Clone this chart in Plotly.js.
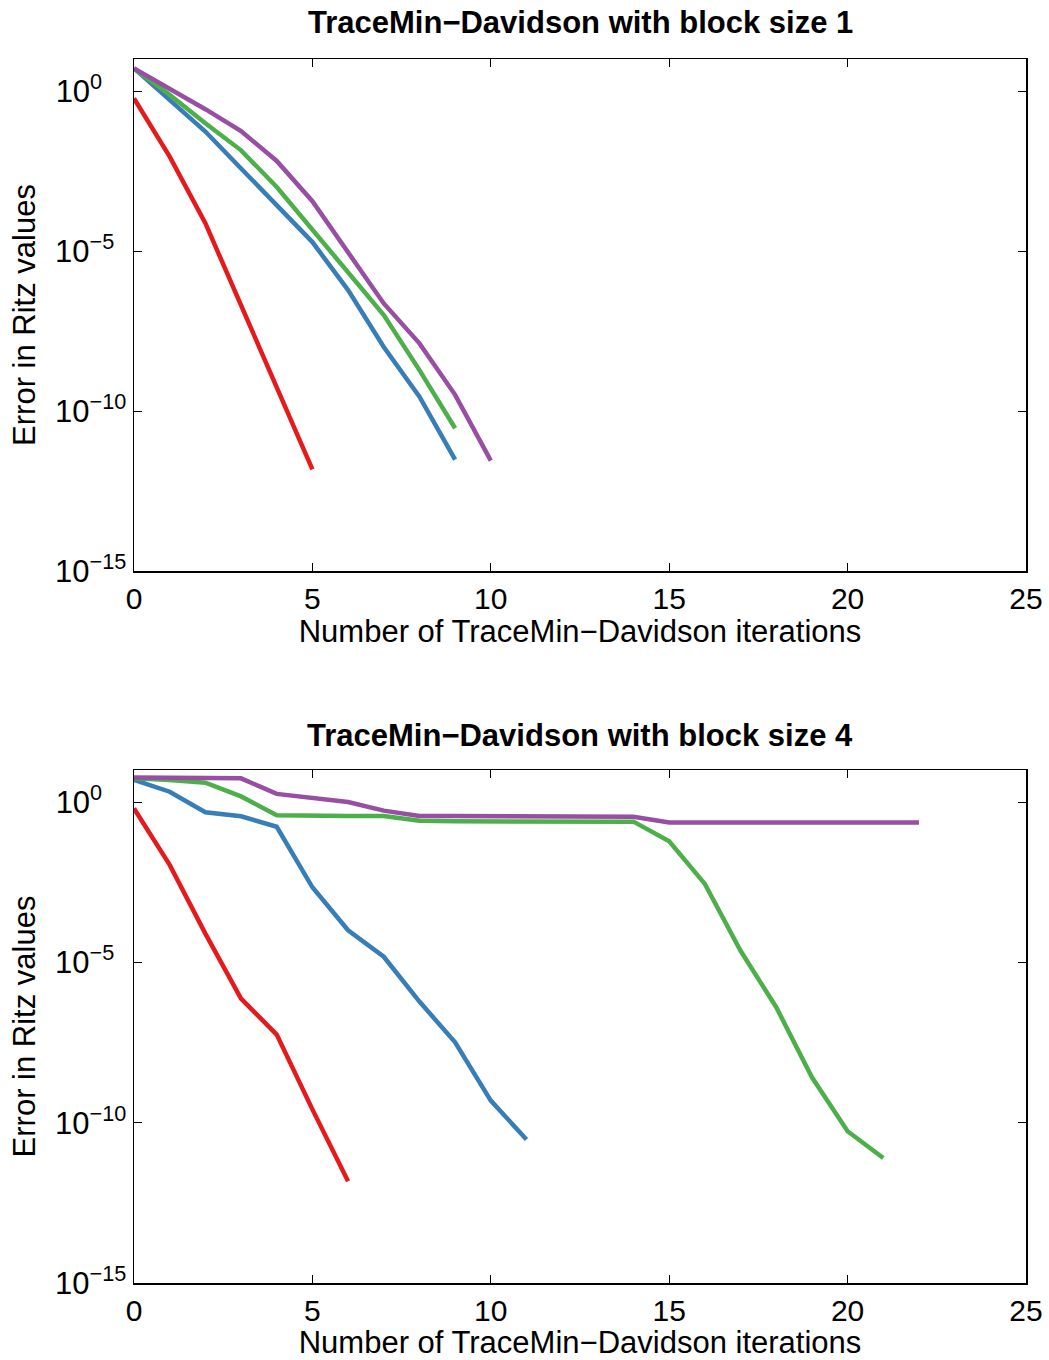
<!DOCTYPE html>
<html>
<head>
<meta charset="utf-8">
<script src="https://cdn.plot.ly/plotly-3.0.1.min.js"></script>
<style>html,body{margin:0;padding:0;background:#fff;}#chart{width:1049px;height:1360px;}</style>
</head>
<body>
<div id="chart"></div>
<script>
// ---- Data (error in Ritz values per iteration) ----
const seriesNames = ["Eigenvalue 1", "Eigenvalue 2", "Eigenvalue 3", "Eigenvalue 4"];
const seriesColors = ["#e41a1c", "#377eb8", "#4daf4a", "#984ea3"];

// Block size 1
const b1_red    = [5.9e-1, 8.9e-3, 7.4e-5, 2.0e-7, 5.0e-10, 1.5e-12];
const b1_blue   = [5.1, 5.2e-1, 5.4e-2, 3.8e-3, 2.8e-4, 1.9e-5, 6.0e-7, 1.0e-8, 2.8e-10, 3.0e-12];
const b1_green  = [5.1, 7.6e-1, 9.8e-2, 1.4e-2, 1.0e-3, 4.6e-5, 2.0e-6, 1.0e-7, 1.9e-9, 2.9e-11];
const b1_purple = [5.1, 1.2, 2.7e-1, 5.6e-2, 6.5e-3, 3.6e-4, 8.9e-6, 2.3e-7, 1.3e-8, 3.2e-10, 2.8e-12];

// Block size 4
const b4_red    = [6.3e-1, 1.1e-2, 7.9e-5, 7.4e-7, 5.6e-8, 2.6e-10, 1.5e-12];
const b4_blue   = [4.9, 2.1, 4.8e-1, 3.6e-1, 1.7e-1, 2.2e-3, 1.0e-4, 1.5e-5, 6.0e-7, 3.2e-8, 4.9e-10, 3.0e-11];
const b4_green  = [5.5, 4.9, 4.0, 1.5, 3.9e-1, 3.7e-1, 3.7e-1, 3.7e-1, 2.6e-1, 2.5e-1, 2.5e-1, 2.5e-1, 2.5e-1, 2.5e-1, 2.45e-1,
                   6.0e-2, 2.8e-3, 2.3e-5, 4.0e-7, 2.6e-9, 5.4e-11, 7.9e-12];
const b4_purple = [5.8, 5.8, 5.5, 5.5, 1.8, 1.3, 1.0, 5.4e-1, 3.7e-1, 3.7e-1, 3.7e-1, 3.7e-1, 3.7e-1, 3.6e-1, 3.5e-1,
                   2.3e-1, 2.3e-1, 2.3e-1, 2.3e-1, 2.3e-1, 2.3e-1, 2.3e-1, 2.3e-1];

const xTickVals = [0, 5, 10, 15, 20, 25];
const yTickVals = [1e-15, 1e-10, 1e-5, 1];
// figure spaces (U+2007) pad the short exponents so the "10" bases line up on the left
const yTickText = ["10<sup>\u221215</sup>", "10<sup>\u221210</sup>", "10<sup>\u22125\u2007</sup>", "10<sup>0\u2007\u2007</sup>"];
const titles = ["TraceMin\u2212Davidson with block size 1", "TraceMin\u2212Davidson with block size 4"];
const xLabel = "Number of TraceMin\u2212Davidson iterations";
const yLabel = "Error in Ritz values";

// ---- Build traces ----
function iters(arr) { return arr.map((_, i) => i); }
const groups = [
  {axes: ["x", "y"],   data: [b1_red, b1_blue, b1_green, b1_purple]},
  {axes: ["x2", "y2"], data: [b4_red, b4_blue, b4_green, b4_purple]}
];
const traces = [];
groups.forEach(g => {
  g.data.forEach((vals, k) => {
    traces.push({
      x: iters(vals), y: vals, type: "scatter", mode: "lines",
      name: seriesNames[k], xaxis: g.axes[0], yaxis: g.axes[1],
      line: {color: seriesColors[k], width: 4.5},
      showlegend: false, hoverinfo: "x+y"
    });
  });
});

const W = 1049, H = 1360;
const FONT = "Liberation Sans, Arial, Helvetica, sans-serif";
function xaxisDef() {
  return {
    domain: [134 / W, 1026 / W],
    range: [0, 25], tickvals: xTickVals, ticks: "inside", ticklen: 8, tickwidth: 1,
    tickcolor: "#000", showline: true, linecolor: "#000", linewidth: 1.5, mirror: "ticks",
    showgrid: false, zeroline: false, automargin: false,
    tickfont: {family: FONT, size: 30, color: "#000"}, ticklabelstandoff: 0,
    title: {text: xLabel, font: {family: FONT, size: 31, color: "#000"}, standoff: 5}
  };
}
function yaxisDef(top, bottom) {
  return {
    domain: [(H - bottom) / H, (H - top) / H],
    type: "log", range: [-15, 1], tickvals: yTickVals, ticktext: yTickText,
    ticks: "inside", ticklen: 8, tickwidth: 1, tickcolor: "#000",
    showline: true, linecolor: "#000", linewidth: 1.5, mirror: "ticks",
    showgrid: false, zeroline: false, automargin: false,
    tickfont: {family: FONT, size: 31, color: "#000"}, ticklabelstandoff: 0,
    title: {text: yLabel, font: {family: FONT, size: 31, color: "#000"}, standoff: 10}
  };
}
const layout = {
  width: W, height: H,
  margin: {l: 0, r: 0, t: 0, b: 0},
  paper_bgcolor: "#fff", plot_bgcolor: "#fff",
  font: {family: FONT, color: "#000"},
  xaxis: Object.assign(xaxisDef(), {anchor: "y"}),
  yaxis: Object.assign(yaxisDef(59, 571), {anchor: "x"}),
  xaxis2: Object.assign(xaxisDef(), {anchor: "y2"}),
  yaxis2: Object.assign(yaxisDef(770, 1283), {anchor: "x2"}),
  annotations: [
    {text: "<b>" + titles[0] + "</b>", xref: "paper", yref: "paper", x: 580 / W, y: (H - 22) / H,
     xanchor: "center", yanchor: "middle", showarrow: false, font: {family: FONT, size: 31, color: "#000"}},
    {text: "<b>" + titles[1] + "</b>", xref: "paper", yref: "paper", x: 580 / W, y: (H - 735) / H,
     xanchor: "center", yanchor: "middle", showarrow: false, font: {family: FONT, size: 31, color: "#000"}}
  ],
  showlegend: false
};
Plotly.newPlot("chart", traces, layout, {staticPlot: true, displayModeBar: false});
</script>
</body>
</html>
